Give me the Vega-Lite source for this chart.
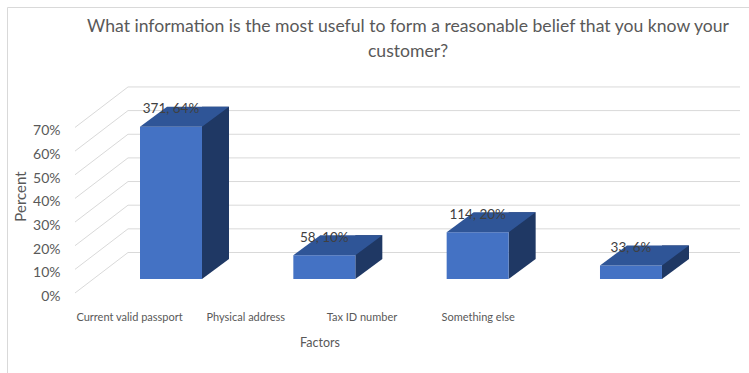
{
  "$schema": "https://vega.github.io/schema/vega-lite/v6.json",
  "width": 742,
  "height": 366,
  "autosize": "none",
  "padding": {"left": 7, "top": 7, "right": 0, "bottom": 0},
  "background": "white",
  "config": {"view": {"stroke": "#D9D9D9", "strokeWidth": 1}, "font": "Lato"},
  "datasets": {
    "bars": [
      {"Factor": "Current valid passport", "count": 371, "pct": 0.6441, "label": "371, 64%"},
      {"Factor": "Physical address", "count": 58, "pct": 0.1007, "label": "58, 10%"},
      {"Factor": "Tax ID number", "count": 114, "pct": 0.1979, "label": "114, 20%"},
      {"Factor": "Something else", "count": 33, "pct": 0.0573, "label": "33, 6%"}
    ],
    "grid": [
      {"g": 0}, {"g": 0.1}, {"g": 0.2}, {"g": 0.3}, {"g": 0.4}, {"g": 0.5}, {"g": 0.6}, {"g": 0.7}
    ]
  },
  "title": {
    "text": ["What information is the most useful to form a reasonable belief that you know your", "customer?"],
    "anchor": "middle",
    "frame": "group",
    "dx": 30,
    "offset": -54,
    "baseline": "top",
    "fontSize": 17.6,
    "fontWeight": "normal",
    "color": "#595959",
    "font": "Lato",
    "lineHeight": 25
  },
  "resolve": {"scale": {"x": "independent"}, "axis": {"y": "independent"}},
  "layer": [
    {
      "data": {"name": "grid"},
      "mark": {"type": "rule", "color": "#D9D9D9", "strokeWidth": 1, "xOffset": 121, "x2Offset": -9, "yOffset": -26.5, "y2Offset": -26.5},
      "encoding": {
        "x": {"datum": 0, "type": "quantitative", "scale": {"domain": [0, 1]}, "axis": null},
        "x2": {"datum": 1},
        "y": {"field": "g", "type": "quantitative", "scale": {"domain": [-0.39746, 1.15011]}, "axis": null},
        "y2": {"field": "g"}
      }
    },
    {
      "data": {"name": "grid"},
      "mark": {"type": "rule", "color": "#D9D9D9", "strokeWidth": 1, "xOffset": 68, "x2Offset": 121, "yOffset": 14, "y2Offset": -26.5},
      "encoding": {
        "x": {"datum": 0, "type": "quantitative", "scale": {"domain": [0, 1]}, "axis": null},
        "x2": {"datum": 0},
        "y": {"field": "g", "type": "quantitative", "scale": {"domain": [-0.39746, 1.15011]}, "axis": null},
        "y2": {"field": "g"}
      }
    },
    {
      "data": {"name": "bars"},
      "encoding": {
        "x": {"field": "Factor", "type": "nominal", "sort": null, "axis": null,
              "scale": {"type": "band", "paddingInner": 0.5957, "paddingOuter": 0.7175, "align": 0.6045}}
      },
      "resolve": {"axis": {"y": "independent"}},
      "layer": [
        {
          "mark": {"type": "bar", "color": "#1F3864", "width": 27, "xOffset": 44.5, "yOffset": -20, "y2Offset": -20},
          "encoding": {
            "y": {"field": "pct", "type": "quantitative", "scale": {"domain": [-0.39746, 1.15011]}, "axis": null},
            "y2": {"datum": 0}
          }
        },
        {
          "mark": {"type": "point", "shape": "M31,0L31,-20L58,-20Z", "size": 4, "filled": true, "color": "#1F3864", "opacity": 1, "strokeWidth": 0},
          "encoding": {
            "y": {"datum": 0, "type": "quantitative", "scale": {"domain": [-0.39746, 1.15011]}, "axis": null}
          }
        },
        {
          "mark": {"type": "bar", "color": "#4472C4"},
          "encoding": {
            "y": {"field": "pct", "type": "quantitative", "scale": {"domain": [-0.39746, 1.15011]},
                  "axis": {"values": [0, 0.1, 0.2, 0.3, 0.4, 0.5, 0.6, 0.7], "format": ".0%", "grid": false, "domain": false, "ticks": false, "tickSize": 0,
                           "labelPadding": 15, "offset": -68, "labelOffset": 17.5, "labelFontSize": 14, "labelColor": "#595959", "labelFont": "Lato",
                           "title": "Percent", "titleFont": "Lato", "titleFontSize": 15, "titleFontWeight": "normal", "titleColor": "#595959",
                           "titleX": -55, "titleY": 189, "titleAngle": -90, "titleAlign": "center", "titleBaseline": "middle"}},
            "y2": {"datum": 0}
          }
        },
        {
          "mark": {"type": "point", "shape": "M-31,0L31,0L58,-20L-4,-20Z", "size": 4, "filled": true, "color": "#2F5597", "opacity": 1, "strokeWidth": 0},
          "encoding": {
            "y": {"field": "pct", "type": "quantitative", "scale": {"domain": [-0.39746, 1.15011]}, "axis": null}
          }
        },
        {
          "mark": {"type": "text", "dy": -17.5, "baseline": "middle", "align": "center", "fontSize": 13.5, "color": "#404040", "font": "Lato"},
          "encoding": {
            "y": {"field": "pct", "type": "quantitative", "scale": {"domain": [-0.39746, 1.15011]}, "axis": null},
            "text": {"field": "label"}
          }
        }
      ]
    },
    {
      "data": {"name": "bars"},
      "mark": {"type": "point", "opacity": 0},
      "encoding": {
        "x": {"field": "Factor", "type": "nominal",
              "scale": {"type": "point", "domain": ["Current valid passport", "Physical address", "Tax ID number", "Something else", " ", "  "], "padding": 0.693, "align": 0.758},
              "axis": {"orient": "bottom", "offset": -62, "domain": false, "ticks": false, "tickSize": 0, "grid": false, "labelPadding": 0,
                       "labelAngle": 0, "labelFontSize": 11, "labelColor": "#595959", "labelFont": "Lato",
                       "title": "Factors", "titleFont": "Lato", "titleFontSize": 12.5, "titleFontWeight": "normal", "titleColor": "#595959",
                       "titleX": 312.5, "titleY": 31, "titleAlign": "center", "titleBaseline": "middle"}}
      }
    }
  ]
}
